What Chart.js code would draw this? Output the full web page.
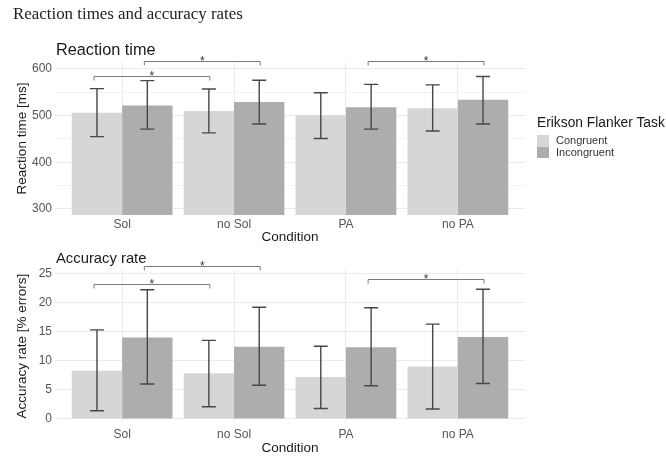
<!DOCTYPE html>
<html>
<head>
<meta charset="utf-8">
<script src="https://cdn.jsdelivr.net/npm/chart.js@4.4.1/dist/chart.umd.min.js"></script>
<style>
  body { margin: 0; width: 666px; height: 456px; overflow: hidden; background: #fff; position: relative;
         font-family: "Liberation Sans", Arial, sans-serif; }
  #mainTitle { position: absolute; left: 13px; top: 5.5px; font: 16.9px/1 "Liberation Serif", "Times New Roman", serif; color: #222; white-space: nowrap; }
  .sub { position: absolute; left: 56px; line-height: 1; color: #1a1a1a; white-space: nowrap; }
  #rtWrap { position: absolute; left: 0; top: 0; }
  #accWrap { position: absolute; left: 0; top: 245px; }
  #legend { position: absolute; left: 537px; top: 114.5px; white-space: nowrap; color: #1a1a1a; }
  #legend .ltitle { font-size: 13.8px; line-height: 16px; margin-bottom: 4.5px; }
  #legend .row { font-size: 11px; line-height: 11.5px; height: 11.5px; color: #333; }
  #legend .key { display: inline-block; width: 12px; height: 11.5px; vertical-align: top; margin-right: 7px; }
</style>
</head>
<body>
<div id="rtWrap"><canvas id="rtChart" width="666" height="245"></canvas></div>
<div id="accWrap"><canvas id="accChart" width="666" height="211"></canvas></div>
<div id="mainTitle">Reaction times and accuracy rates</div>
<div class="sub" style="top:41px;font-size:16.3px">Reaction time</div>
<div class="sub" style="top:250.5px;font-size:14.8px">Accuracy rate</div>
<div id="legend"><div class="ltitle">Erikson Flanker Task</div></div>

<script>
const conditions = ["Sol", "no Sol", "PA", "no PA"];
const groups = ["Congruent", "Incongruent"];
const groupColors = ["#d6d6d6", "#adadad"];

// reaction time [ms]
const rtCongruent = [506, 510, 501, 516];
const rtCongruentLow = [455, 463, 451, 467];
const rtCongruentHigh = [558, 557, 549, 566];
const rtIncongruent = [522, 529, 518, 534];
const rtIncongruentLow = [471, 482, 471, 482];
const rtIncongruentHigh = [575, 576, 567, 584];
const rtTicks = [300, 400, 500, 600];

// accuracy rate [% errors]
const accCongruent = [8.3, 7.85, 7.2, 9.0];
const accCongruentLow = [1.4, 2.1, 1.8, 1.7];
const accCongruentHigh = [15.3, 13.5, 12.5, 16.3];
const accIncongruent = [14.0, 12.4, 12.3, 14.1];
const accIncongruentLow = [6.0, 5.8, 5.7, 6.1];
const accIncongruentHigh = [22.2, 19.2, 19.1, 22.3];
const accTicks = [0, 5, 10, 15, 20, 25];

// significance brackets: [condition, group] -> [condition, group] at height y
const rtBrackets = [
  { from: [0, 0], to: [1, 0], y: 585 },
  { from: [0, 1], to: [1, 1], y: 617 },
  { from: [2, 1], to: [3, 1], y: 618 }
];
const accBrackets = [
  { from: [0, 0], to: [1, 0], y: 23.2 },
  { from: [0, 1], to: [1, 1], y: 26.2 },
  { from: [2, 1], to: [3, 1], y: 24.0 }
];

// legend
const legendEl = document.getElementById("legend");
groups.forEach((g, i) => {
  const row = document.createElement("div");
  row.className = "row";
  row.innerHTML = `<span class="key" style="background:${groupColors[i]}"></span>${g}`;
  legendEl.appendChild(row);
});

function overlay(brackets) {
  return {
    id: "overlay",
    afterDatasetsDraw(chart) {
      const ctx = chart.ctx;
      const y = chart.scales.y;
      ctx.save();
      // error bars
      ctx.strokeStyle = "#474747";
      ctx.lineWidth = 1.4;
      chart.data.datasets.forEach((ds, i) => {
        chart.getDatasetMeta(i).data.forEach((bar, j) => {
          const top = y.getPixelForValue(ds.high[j]);
          const bot = y.getPixelForValue(ds.low[j]);
          ctx.beginPath();
          ctx.moveTo(bar.x, top); ctx.lineTo(bar.x, bot);
          ctx.moveTo(bar.x - 7, top); ctx.lineTo(bar.x + 7, top);
          ctx.moveTo(bar.x - 7, bot); ctx.lineTo(bar.x + 7, bot);
          ctx.stroke();
        });
      });
      // brackets
      ctx.strokeStyle = "#7a7a7a";
      ctx.lineWidth = 1;
      ctx.fillStyle = "#333";
      ctx.font = "12px 'Liberation Sans', Arial, sans-serif";
      ctx.textAlign = "center";
      ctx.textBaseline = "alphabetic";
      brackets.forEach(b => {
        const x1 = chart.getDatasetMeta(b.from[1]).data[b.from[0]].x - 3;
        const x2 = chart.getDatasetMeta(b.to[1]).data[b.to[0]].x + 1;
        const py = Math.round(y.getPixelForValue(b.y)) + 0.5;
        ctx.beginPath();
        ctx.moveTo(x1, py + 4); ctx.lineTo(x1, py); ctx.lineTo(x2, py); ctx.lineTo(x2, py + 4);
        ctx.stroke();
        ctx.fillText("*", (x1 + x2) / 2, py + 3);
      });
      ctx.restore();
    }
  };
}

function makeChart(id, values, lows, highs, ticks, yMin, yMax, yTitle, brackets, pad, xHeight, tickPad) {
  const minor = ticks.slice(1).map((t, i) => (t + ticks[i]) / 2);
  const allTicks = ticks.concat(minor).sort((a, b) => a - b);
  return new Chart(document.getElementById(id), {
    type: "bar",
    data: {
      datasets: groups.map((g, k) => ({
        label: g,
        data: values[k].map((v, i) => ({ x: i + 1, y: v })),
        low: lows[k],
        high: highs[k],
        backgroundColor: groupColors[k],
        borderWidth: 0,
        categoryPercentage: 0.9,
        barPercentage: 1.0
      }))
    },
    options: {
      responsive: false,
      animation: false,
      devicePixelRatio: 1,
      layout: { padding: { top: pad, right: 141, left: 0, bottom: 0 } },
      plugins: { legend: { display: false }, tooltip: { enabled: false } },
      scales: {
        x: {
          type: "linear",
          offset: false,
          min: 0.4,
          max: 4.6,
          afterBuildTicks: s => { s.ticks = conditions.map((c, i) => ({ value: i + 1 })); },
          afterFit: s => { s.height = xHeight; },
          ticks: {
            callback: v => conditions[v - 1],
            color: "#555",
            font: { size: 12, family: "'Liberation Sans', Arial, sans-serif" },
            padding: tickPad,
            maxRotation: 0
          },
          grid: { color: "#ececec", drawTicks: false, offset: false },
          border: { display: false },
          title: {
            display: true,
            text: "Condition",
            color: "#1a1a1a",
            font: { size: 13.5, family: "'Liberation Sans', Arial, sans-serif" },
            padding: { top: 0, bottom: 0 }
          }
        },
        y: {
          min: yMin,
          max: yMax,
          afterBuildTicks: s => { s.ticks = allTicks.map(v => ({ value: v })); },
          afterFit: s => { s.width = 55; },
          ticks: {
            callback: v => ticks.includes(v) ? String(v) : "",
            color: "#555",
            font: { size: 12, family: "'Liberation Sans', Arial, sans-serif" },
            padding: 3
          },
          grid: {
            drawTicks: false,
            color: c => ticks.includes(c.tick.value) ? "#ebebeb" : "#f3f3f3"
          },
          border: { display: false },
          title: {
            display: true,
            text: yTitle,
            color: "#1a1a1a",
            font: { size: 13.5, family: "'Liberation Sans', Arial, sans-serif" },
            padding: { top: 14, bottom: 0 }
          }
        }
      }
    },
    plugins: [overlay(brackets)]
  });
}

makeChart("rtChart",
  [rtCongruent, rtIncongruent], [rtCongruentLow, rtIncongruentLow], [rtCongruentHigh, rtIncongruentHigh],
  rtTicks, 287, 615, "Reaction time [ms]", rtBrackets, 62, 30, 2);

makeChart("accChart",
  [accCongruent, accIncongruent], [accCongruentLow, accIncongruentLow], [accCongruentHigh, accIncongruentHigh],
  accTicks, -0.7, 25.7, "Accuracy rate [% errors]", accBrackets, 24.4, 33, 4);
</script>
</body>
</html>
